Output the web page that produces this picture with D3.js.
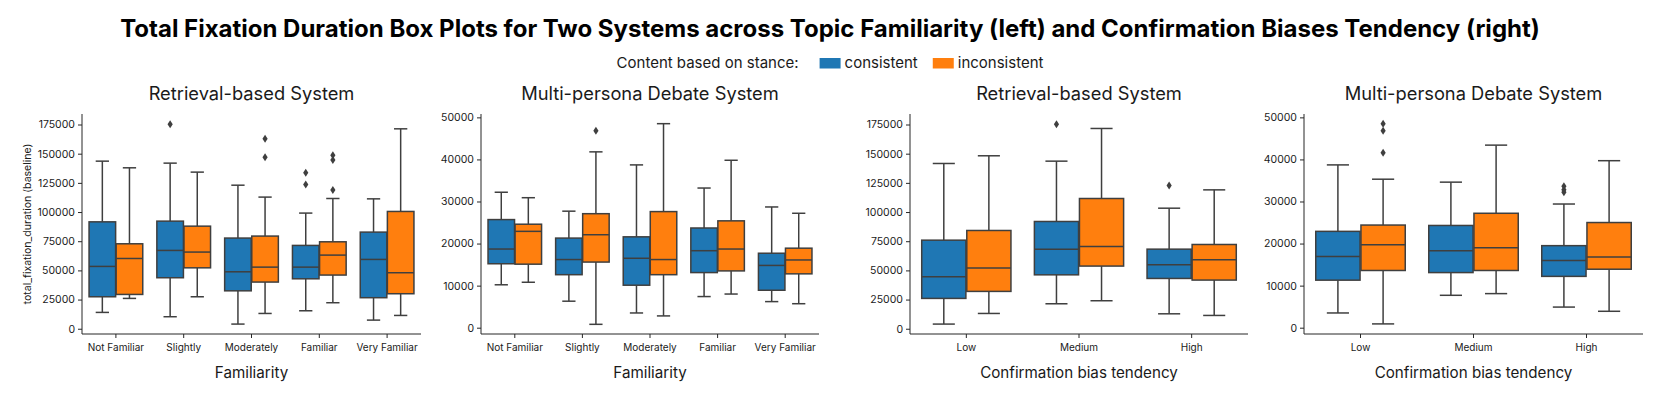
<!DOCTYPE html>
<html>
<head>
<meta charset="utf-8">
<script src="https://cdn.jsdelivr.net/npm/d3@7"></script>
<style>
  body { margin: 0; background: #fff; }
  text { font-family: Inter, "Noto Sans", sans-serif; fill: #1a1a1a; }
</style>
</head>
<body>
<div id="chart"></div>
<script>
// categories and series
var hues = ["consistent", "inconsistent"];
var hueColors = ["#1f77b4", "#ff7f0e"];
var familiarity = ["Not Familiar", "Slightly", "Moderately", "Familiar", "Very Familiar"];
var biasLevels = ["Low", "Medium", "High"];

// each box: [low whisker, q1, median, q3, high whisker]
var retFamConsistent = [
  [14000, 27400, 53400, 91600, 143600],
  [10300, 43700, 67100, 92200, 141900],
  [4000, 32500, 48800, 77700, 123000],
  [15400, 42800, 52800, 71400, 99100],
  [7400, 26600, 59400, 82800, 111300]
];
var retFamInconsistent = [
  [26000, 29400, 60200, 72800, 137900],
  [27400, 52200, 65700, 87900, 134200],
  [13100, 40000, 52800, 79400, 112800],
  [22300, 46000, 63100, 74500, 111600],
  [11400, 30000, 48000, 100500, 171300]
];
var retFamOutC = [[], [175300], [], [133600, 123600], []];
var retFamOutI = [[], [], [162700, 147000], [148700, 144500, 118800], []];

var debFamConsistent = [
  [10200, 15200, 18700, 25700, 32200],
  [6300, 12600, 16200, 21300, 27700],
  [3500, 10100, 16500, 21600, 38700],
  [7400, 13100, 18300, 23700, 33200],
  [6200, 8900, 14800, 17700, 28700]
];
var debFamInconsistent = [
  [10800, 15100, 22900, 24600, 30900],
  [800, 15600, 22100, 27100, 41800],
  [2800, 12600, 16200, 27600, 48500],
  [8000, 13500, 18700, 25400, 39800],
  [5700, 12800, 16100, 18900, 27200]
];
var debFamOutC = [[], [], [], [], []];
var debFamOutI = [[], [46800], [], [], []];

var retBiasConsistent = [
  [4000, 26000, 44500, 75900, 141600],
  [21400, 46200, 68200, 91900, 143600],
  [12800, 43100, 54800, 68200, 103300]
];
var retBiasInconsistent = [
  [13100, 32000, 52000, 84200, 148200],
  [24000, 53700, 70500, 111600, 171600],
  [11400, 41700, 59100, 72200, 119000]
];
var retBiasOutC = [[], [175300], [122800]];
var retBiasOutI = [[], [], []];

var debBiasConsistent = [
  [3500, 11300, 16900, 22900, 38700],
  [7700, 13100, 18300, 24300, 34600],
  [4900, 12200, 16000, 19500, 29400]
];
var debBiasInconsistent = [
  [900, 13600, 19700, 24400, 35300],
  [8100, 13600, 19000, 27200, 43400],
  [3900, 13900, 16800, 25000, 39700]
];
var debBiasOutC = [[], [], [33600, 32800, 32200]];
var debBiasOutI = [[48500, 46800, 41600], [], []];

var bigTicks = [0, 25000, 50000, 75000, 100000, 125000, 150000, 175000];
var smallTicks = [0, 10000, 20000, 30000, 40000, 50000];

var svgWidth = 1661, svgHeight = 393;
var plotTop = 114, plotBottom = 334;
var lineColor = "#3f3f3f";
var axisColor = "#262626";

var svg = d3.select("#chart").append("svg")
  .attr("width", svgWidth)
  .attr("height", svgHeight);

svg.append("rect").attr("width", svgWidth).attr("height", svgHeight).attr("fill", "#fff");

svg.append("text")
  .attr("x", 830).attr("y", 37)
  .attr("text-anchor", "middle")
  .style("font-size", "24px").style("font-weight", "bold").style("fill", "#000")
  .text("Total Fixation Duration Box Plots for Two Systems across Topic Familiarity (left) and Confirmation Biases Tendency (right)");

// legend, centered
var legend = svg.append("g");
var legendY = 68;
var lx = 0;
var lt = legend.append("text").attr("x", lx).attr("y", legendY).style("font-size", "15px")
  .text("Content based on stance:");
lx += lt.node().getComputedTextLength() + 21;
hues.forEach(function(h, i) {
  legend.append("rect").attr("x", lx).attr("y", legendY - 10).attr("width", 21).attr("height", 10.5)
    .attr("fill", hueColors[i]);
  lx += 25;
  var t = legend.append("text").attr("x", lx).attr("y", legendY).style("font-size", "15px").text(h);
  lx += t.node().getComputedTextLength() + 15;
});
lx -= 15;
legend.attr("transform", "translate(" + (830 - lx / 2) + ",0)");

var panels = [
  {x0: 82, x1: 421, cats: familiarity, title: "Retrieval-based System", xlabel: "Familiarity",
   boxes: [retFamConsistent, retFamInconsistent], outs: [retFamOutC, retFamOutI],
   domain: [-4500, 184000], ticks: bigTicks, ylabel: "total_fixation_duration (baseline)"},
  {x0: 481, x1: 819, cats: familiarity, title: "Multi-persona Debate System", xlabel: "Familiarity",
   boxes: [debFamConsistent, debFamInconsistent], outs: [debFamOutC, debFamOutI],
   domain: [-1500, 50800], ticks: smallTicks},
  {x0: 910, x1: 1248, cats: biasLevels, title: "Retrieval-based System", xlabel: "Confirmation bias tendency",
   boxes: [retBiasConsistent, retBiasInconsistent], outs: [retBiasOutC, retBiasOutI],
   domain: [-4500, 184000], ticks: bigTicks},
  {x0: 1304, x1: 1643, cats: biasLevels, title: "Multi-persona Debate System", xlabel: "Confirmation bias tendency",
   boxes: [debBiasConsistent, debBiasInconsistent], outs: [debBiasOutC, debBiasOutI],
   domain: [-1500, 50800], ticks: smallTicks}
];

panels.forEach(function(p) {
  var x = d3.scaleBand().domain(p.cats).range([p.x0, p.x1]).padding(0);
  var xHue = d3.scaleBand().domain(hues).range([0, x.bandwidth()]).paddingOuter(0.25).paddingInner(0);
  var y = d3.scaleLinear().domain(p.domain).range([plotBottom, plotTop]);
  var g = svg.append("g");

  var boxW = xHue.bandwidth() * 0.98;
  var capW = boxW * 0.5;

  p.boxes.forEach(function(series, hi) {
    series.forEach(function(s, ci) {
      var cx = x(p.cats[ci]) + xHue(hues[hi]) + xHue.bandwidth() / 2;
      var bg = g.append("g");
      // whiskers
      bg.append("line").attr("x1", cx).attr("x2", cx).attr("y1", y(s[0])).attr("y2", y(s[1]));
      bg.append("line").attr("x1", cx).attr("x2", cx).attr("y1", y(s[3])).attr("y2", y(s[4]));
      bg.append("line").attr("x1", cx - capW / 2).attr("x2", cx + capW / 2).attr("y1", y(s[0])).attr("y2", y(s[0]));
      bg.append("line").attr("x1", cx - capW / 2).attr("x2", cx + capW / 2).attr("y1", y(s[4])).attr("y2", y(s[4]));
      bg.selectAll("line").attr("stroke", lineColor).attr("stroke-width", 1.5);
      bg.append("rect")
        .attr("x", cx - boxW / 2).attr("width", boxW)
        .attr("y", y(s[3])).attr("height", y(s[1]) - y(s[3]))
        .attr("fill", hueColors[hi]).attr("stroke", lineColor).attr("stroke-width", 1.5);
      bg.append("line").attr("x1", cx - boxW / 2).attr("x2", cx + boxW / 2)
        .attr("y1", y(s[2])).attr("y2", y(s[2]))
        .attr("stroke", lineColor).attr("stroke-width", 1.5);
      p.outs[hi][ci].forEach(function(v) {
        var py = y(v);
        bg.append("path")
          .attr("d", "M" + cx + "," + (py - 4) + "L" + (cx + 2.6) + "," + py + "L" + cx + "," + (py + 4) + "L" + (cx - 2.6) + "," + py + "Z")
          .attr("fill", lineColor);
      });
    });
  });

  var yAxis = d3.axisLeft(y).tickValues(p.ticks).tickSize(4).tickPadding(3).tickFormat(d3.format("d"));
  var yg = g.append("g").attr("transform", "translate(" + p.x0 + ",0)").call(yAxis);
  yg.select(".domain").attr("d", "M0," + plotTop + "V" + plotBottom).attr("stroke", axisColor);
  yg.selectAll(".tick line").attr("stroke", axisColor);
  yg.selectAll(".tick text").style("font-size", "10.5px").style("font-family", "Inter").attr("fill", axisColor);

  var xAxis = d3.axisBottom(x).tickSize(4).tickPadding(6);
  var xg = g.append("g").attr("transform", "translate(0," + plotBottom + ")").call(xAxis);
  xg.select(".domain").attr("d", "M" + p.x0 + ",0H" + p.x1).attr("stroke", axisColor);
  xg.selectAll(".tick line").attr("stroke", axisColor);
  xg.selectAll(".tick text").style("font-size", "10px").style("font-family", "Inter").attr("fill", axisColor);

  g.append("text").attr("x", (p.x0 + p.x1) / 2).attr("y", 100).attr("text-anchor", "middle")
    .style("font-size", "18.3px").text(p.title);
  g.append("text").attr("x", (p.x0 + p.x1) / 2).attr("y", 378).attr("text-anchor", "middle")
    .style("font-size", "15.2px").text(p.xlabel);
  if (p.ylabel) {
    g.append("text").attr("transform", "translate(31," + ((plotTop + plotBottom) / 2) + ") rotate(-90)")
      .attr("text-anchor", "middle").style("font-size", "10.5px").text(p.ylabel);
  }
});
</script>
</body>
</html>
